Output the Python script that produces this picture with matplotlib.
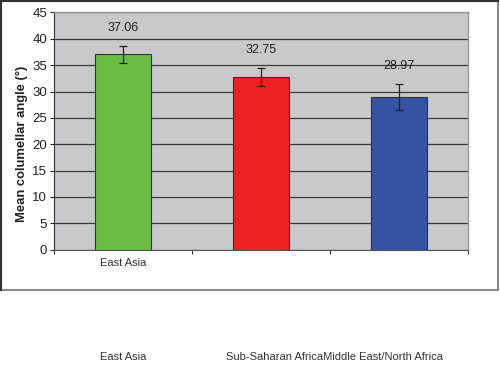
import matplotlib
matplotlib.use("Agg")
import matplotlib.pyplot as plt
from matplotlib.patches import Rectangle

plt.rcParams["font.family"] = ["Liberation Sans", "DejaVu Sans"]

# data
regions = ["East Asia", "Sub-Saharan Africa", "Middle East/North Africa"]
mean_angle = [37.06, 32.75, 28.97]
angle_err = [1.6, 1.65, 2.4]
bar_colors = ["#6abd45", "#ed2024", "#3652a3"]
y_ticks = [0, 5, 10, 15, 20, 25, 30, 35, 40, 45]

fig = plt.figure(figsize=(5, 3.66), dpi=100)
ax = fig.add_axes([0.108, 0.318, 0.828, 0.648])
ax.set_facecolor("#c9c9cb")

x = list(range(len(regions)))
ax.bar(x, mean_angle, width=0.4, color=bar_colors, edgecolor="#333333",
       linewidth=0.8, zorder=3)
ax.errorbar(x, mean_angle, yerr=angle_err, fmt="none", ecolor="#222222",
            elinewidth=0.9, capsize=3, capthick=0.9, zorder=4)

for xi, v, e in zip(x, mean_angle, angle_err):
    ax.text(xi, v + e + 3.4, f"{v:.2f}", ha="center", va="center",
            fontsize=9, color="#222222")

ax.set_xlim(-0.5, len(regions) - 0.5)
ax.set_ylim(0, 45)
ax.set_yticks(y_ticks)
ax.yaxis.grid(True, color="#3a3a3a", linewidth=0.9, zorder=1)
ax.set_axisbelow(True)
ax.tick_params(axis="y", labelsize=9.5, length=3, width=0.8,
               colors="#222222", pad=2)

ax.set_xticks(x)
ax.set_xticklabels([regions[0], "", ""], fontsize=8, color="#333333")
ax.tick_params(axis="x", length=0, pad=6)
ax.set_xticks([i - 0.5 for i in range(len(regions) + 1)], minor=True)
ax.tick_params(axis="x", which="minor", length=3, width=0.8, color="#333333")

ax.set_ylabel("Mean columellar angle (°)", fontsize=9.4, fontweight="bold",
              color="#222222")
ax.yaxis.set_label_coords(-0.063, 0.445)

for side in ["top", "right"]:
    ax.spines[side].set_color("#9a9a9a")
    ax.spines[side].set_linewidth(1.0)
ax.spines["left"].set_color("#333333")
ax.spines["bottom"].set_color("#555555")

# stray category labels printed under the figure frame
fig.text(123 / 500, 1 - 357 / 366, regions[0], ha="center", va="center",
         fontsize=8, color="#333333")
fig.text(226 / 500, 1 - 357 / 366, regions[1] + regions[2], ha="left",
         va="center", fontsize=8, color="#333333")

# frame around the chart area
fig.patches.append(Rectangle((0.002, 1 - 290 / 366), 0.994, 290 / 366 - 0.003,
                             transform=fig.transFigure, fill=False,
                             edgecolor="#8a8a8a", linewidth=1.5))
fig.add_artist(plt.Line2D([0.002, 0.002], [1 - 290 / 366, 0.997],
                          transform=fig.transFigure, color="#333333", lw=1.5))
fig.add_artist(plt.Line2D([0.002, 0.996], [0.997, 0.997],
                          transform=fig.transFigure, color="#333333", lw=1.5))

fig.savefig("out.png", dpi=100)
